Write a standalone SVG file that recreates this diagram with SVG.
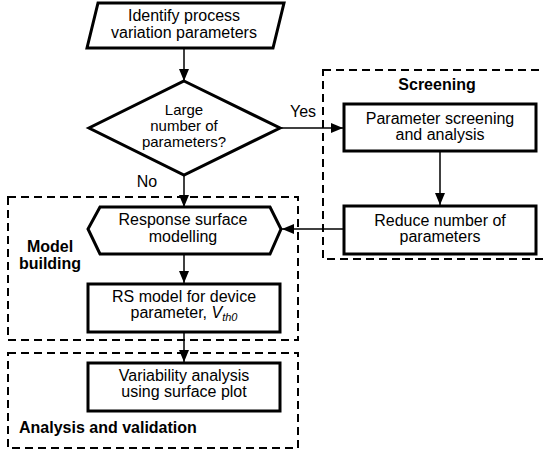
<svg xmlns="http://www.w3.org/2000/svg" width="544" height="455" viewBox="0 0 544 455">
<style>
.node{fill:#fff;stroke:#000;stroke-width:3;stroke-linejoin:miter}
.grp{fill:none;stroke:#000;stroke-width:2;stroke-dasharray:8 5}
.t{font-family:"Liberation Sans",Arial,sans-serif;font-size:16px;fill:#000;text-anchor:middle}
.d{font-size:15px}
.b{font-family:"Liberation Sans",Arial,sans-serif;font-size:16px;font-weight:bold;fill:#000}
.c{fill:none;stroke:#000;stroke-width:1.5}
</style>
<defs>
<marker id="ah" viewBox="0 0 12 10" refX="12" refY="5" markerWidth="12" markerHeight="10" markerUnits="userSpaceOnUse" orient="auto">
<path d="M0,0 L12,5 L0,10 Z" fill="#000"/>
</marker>
</defs>
<g id="groups">
<rect id="screening-group" class="grp" x="323" y="70" width="230" height="189"/>
<rect id="model-group" class="grp" x="8" y="197" width="290" height="143"/>
<rect id="analysis-group" class="grp" x="8" y="353" width="290" height="95"/>
<text class="b" x="437" y="90" text-anchor="middle">Screening</text>
<text class="b" x="50" y="252" text-anchor="middle">Model</text>
<text class="b" x="50" y="269" text-anchor="middle">building</text>
<text class="b" x="19" y="433">Analysis and  validation</text>
</g>
<g id="connectors">
<line class="c" x1="184" y1="49" x2="184" y2="81" marker-end="url(#ah)"/>
<line class="c" x1="281" y1="128" x2="343" y2="128" marker-end="url(#ah)"/>
<line class="c" x1="184" y1="175" x2="184" y2="207" marker-end="url(#ah)"/>
<line class="c" x1="440" y1="152" x2="440" y2="205" marker-end="url(#ah)"/>
<line class="c" x1="344" y1="229" x2="282" y2="229" marker-end="url(#ah)"/>
<line class="c" x1="184" y1="255" x2="184" y2="283" marker-end="url(#ah)"/>
<line class="c" x1="184" y1="333" x2="184" y2="362" marker-end="url(#ah)"/>
<text class="t" x="303" y="117">Yes</text>
<text class="t" x="147" y="187">No</text>
</g>
<g id="identify">
<polygon class="node" points="98,3 284,3 273,48 87,48"/>
<text class="t" x="184" y="21">Identify process</text>
<text class="t" x="184" y="38">variation parameters</text>
</g>
<g id="decision">
<polygon class="node" points="184,81 280,128 184,175 89,128"/>
<text class="t d" x="184" y="115">Large</text>
<text class="t d" x="184" y="131">number of</text>
<text class="t d" x="184" y="147">parameters?</text>
</g>
<g id="param-screening">
<rect class="node" x="344" y="104" width="192" height="47"/>
<text class="t" x="440" y="124">Parameter screening</text>
<text class="t" x="440" y="140">and analysis</text>
</g>
<g id="reduce">
<rect class="node" x="344" y="206" width="192" height="48"/>
<text class="t" x="440" y="226">Reduce number of</text>
<text class="t" x="440" y="242">parameters</text>
</g>
<g id="rsm">
<polygon class="node" points="100,207 270,207 281,229 270,254 100,254 88,229"/>
<text class="t" x="183" y="225">Response surface</text>
<text class="t" x="183" y="242">modelling</text>
</g>
<g id="rs-model">
<rect class="node" x="88" y="284" width="192" height="48"/>
<text class="t" x="184" y="302">RS model for device</text>
<text class="t" x="184" y="318">parameter, <tspan font-style="italic">V</tspan><tspan font-style="italic" font-size="11" dy="3">th0</tspan></text>
</g>
<g id="variability">
<rect class="node" x="88" y="363" width="192" height="48"/>
<text class="t" x="184" y="381">Variability analysis</text>
<text class="t" x="184" y="397">using surface plot</text>
</g>
</svg>
